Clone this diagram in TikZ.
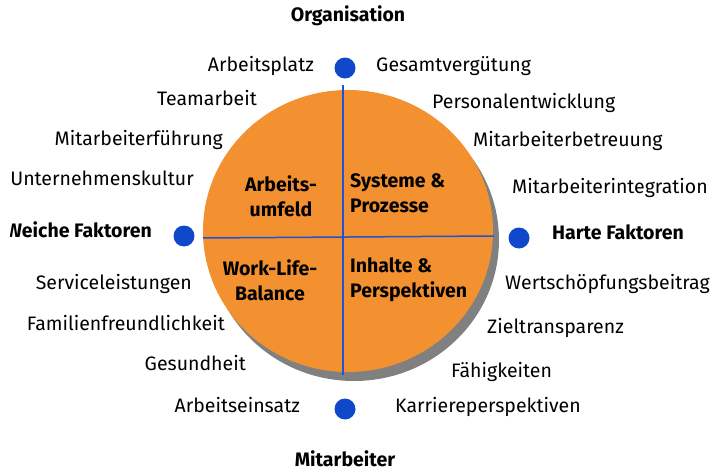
\documentclass[tikz,border=0pt]{standalone}
\usepackage{fontspec}
\setmainfont{Fira Sans}
\definecolor{quadorange}{RGB}{243,145,48}
\definecolor{dotblue}{RGB}{16,72,204}
\definecolor{lineblue}{RGB}{32,82,214}
\definecolor{shadowgray}{RGB}{128,128,128}
\tikzset{
  lbl/.style={font=\fontsize{19.5}{19.5}\selectfont, inner sep=0pt, text height=13pt, text depth=5.5pt},
  head/.style={lbl, font=\fontsize{19.5}{19.5}\selectfont\bfseries},
  quad/.style={font=\fontsize{19.5}{25}\selectfont\bfseries, inner sep=0pt},
  dot/.style={circle, fill=dotblue, minimum size=21pt, inner sep=0pt},
}

\begin{document}
\begin{tikzpicture}
    \pgfsetxvec{\pgfpoint{1pt}{0}}
    \pgfsetyvec{\pgfpoint{0}{-1pt}}
    \useasboundingbox (0,0) rectangle (716,474);

    % disc with shadow
    \fill[shadowgray] (354,240) ellipse [x radius=145pt, y radius=141pt];
    \fill[quadorange] (348,231) ellipse [x radius=145pt, y radius=141pt];
    \coordinate (vtop) at (343,85);
    \coordinate (vbot) at (343,375);
    \coordinate (hleft) at (203,238);
    \coordinate (hright) at (494,236);
    \draw[lineblue, line width=1.5pt] (vtop) -- (vbot);
    \draw[lineblue, line width=1.5pt] (hleft) -- (hright);

    \node[quad, align=center] (umfeld) at (281,196) {Arbeits-\\umfeld};
    \node[quad, align=left, anchor=west] (systeme) at (350,193) {Systeme \&\\Prozesse};
    \node[quad, align=center] (balance) at (270,280) {Work-Life-\\Balance};
    \node[quad, align=left, anchor=west] (inhalte) at (350,280) {Inhalte \&\\Perspektiven};

    % axis points
    \node[dot] (dotorg) at (345,68) {};
    \node[dot] (dotweich) at (184,236) {};
    \node[dot] (dothart) at (519,238) {};
    \node[dot] (dotmit) at (345,409) {};

    \node[head] (organisation) at (348,18) {Organisation};
    \node[head] (mitarbeiter) at (345,463) {Mitarbeiter};
    \node[head, anchor=west] (harte) at (552,236) {Harte Faktoren};

    \begin{scope}
      \clip (10,0) rectangle (716,474);
      \node[head, anchor=east] (weiche) at (152,234) {Weiche Faktoren};
      \foreach \x/\y/\t [count=\i] in {314/68/Arbeitsplatz, 257/102/Teamarbeit,
          223/142/Mitarbeiterführung, 194/182/Unternehmenskultur,
          192/286/Serviceleistungen, 225/327/Familienfreundlichkeit,
          246/367/Gesundheit, 300/409/Arbeitseinsatz} {
        \node[lbl, anchor=east] (left\i) at (\x,\y) {\t};
      }
    \end{scope}

    \foreach \x/\y/\t [count=\i] in {376/68/Gesamtvergütung, 432/105/Personalentwicklung,
        473/143/Mitarbeiterbetreuung, 512/190/Mitarbeiterintegration,
        505/286/Wertschöpfungsbeitrag, 487/330/Zieltransparenz,
        451/374/Fähigkeiten, 395/409/Karriereperspektiven} {
      \node[lbl, anchor=west] (right\i) at (\x,\y) {\t};
    }
\end{tikzpicture}
\end{document}
